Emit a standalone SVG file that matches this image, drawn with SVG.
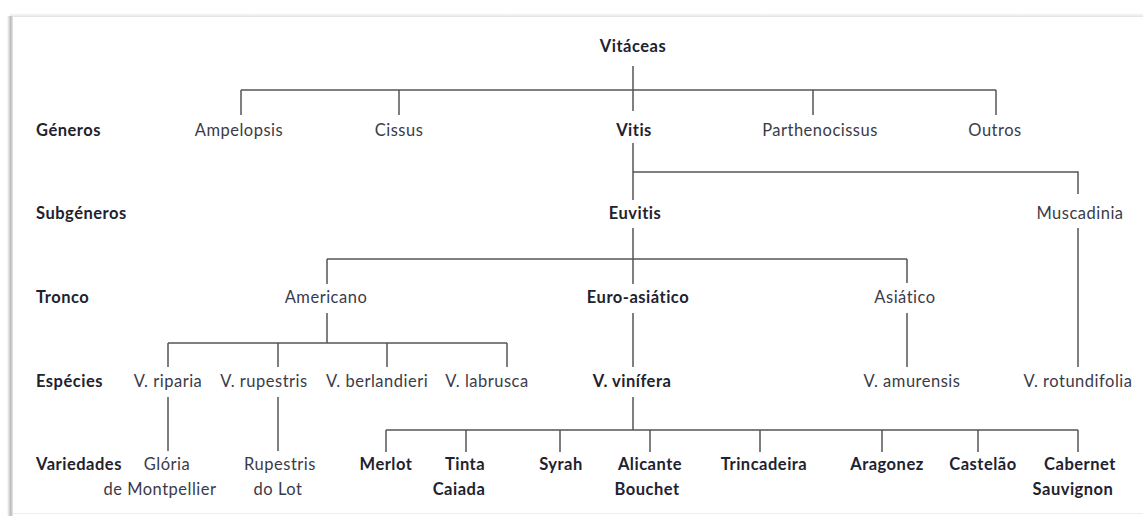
<svg xmlns="http://www.w3.org/2000/svg" width="1143" height="516" viewBox="0 0 1143 516">
<defs>
<linearGradient id="shadowL" x1="0" x2="1" y1="0" y2="0">
<stop offset="0" stop-color="#ffffff"/>
<stop offset="0.6" stop-color="#bdbdbd"/>
<stop offset="1" stop-color="#e6e6e6"/>
</linearGradient>
<linearGradient id="shadowT" x1="0" x2="0" y1="0" y2="1">
<stop offset="0" stop-color="#ffffff"/>
<stop offset="1" stop-color="#e2e2e2"/>
</linearGradient>
</defs>
<style>
text{font-family:Lato,"Liberation Sans",sans-serif;font-size:16.5px;letter-spacing:0.5px;fill:#3b3b48;}
.b{font-weight:bold;fill:#22222e;}
.c{text-anchor:middle;}
.ln{stroke:#555555;stroke-width:1.5;fill:none;}
</style>
<rect width="1143" height="516" fill="#ffffff"/>
<rect x="10" y="13" width="1133" height="4" fill="url(#shadowT)"/>
<rect x="7" y="16" width="6" height="500" fill="url(#shadowL)"/>
<rect x="13" y="17" width="1130" height="496" fill="#ffffff"/>
<line x1="13" y1="513.5" x2="1143" y2="513.5" stroke="#eeeeee" stroke-width="1"/>

<g id="connectors">
<path class="ln" d="M633 66V111M241 90H996M241 90V115M399 90V115M813 90V115M996 90V115"/>
<path class="ln" d="M633 143V200M633 172H1078V194"/>
<path class="ln" d="M633 228V284M327 259H907M327 259V284M907 259V283"/>
<path class="ln" d="M327 313V343M168 343H507M168 343V367M278 343V367M387 343V367M507 343V367"/>
<path class="ln" d="M633 313V367M907 313V367M1078 228V367"/>
<path class="ln" d="M168 397V451M278 397V451"/>
<path class="ln" d="M633 397V430M386 430H1078M386 430V452M466 430V452M560 430V452M650 430V452M760 430V452M882 430V452M978 430V452M1078 430V452"/>
</g>

<g id="row-labels">
<text class="b" x="36" y="136">Géneros</text>
<text class="b" x="36" y="219">Subgéneros</text>
<text class="b" x="36" y="303">Tronco</text>
<text class="b" x="36" y="387">Espécies</text>
<text class="b" x="36" y="470">Variedades</text>
</g>

<g id="n-vitaceas"><text class="b c" x="633" y="52">Vitáceas</text></g>
<g id="n-ampelopsis"><text class="c" x="239" y="136">Ampelopsis</text></g>
<g id="n-cissus"><text class="c" x="399" y="136">Cissus</text></g>
<g id="n-vitis"><text class="b c" x="634" y="136">Vitis</text></g>
<g id="n-parthenocissus"><text class="c" x="820" y="136">Parthenocissus</text></g>
<g id="n-outros"><text class="c" x="995" y="136">Outros</text></g>
<g id="n-euvitis"><text class="b c" x="635" y="219">Euvitis</text></g>
<g id="n-muscadinia"><text class="c" x="1080" y="219">Muscadinia</text></g>
<g id="n-americano"><text class="c" x="326" y="303">Americano</text></g>
<g id="n-euroasiatico"><text class="b c" x="638" y="303">Euro-asiático</text></g>
<g id="n-asiatico"><text class="c" x="905" y="303">Asiático</text></g>
<g id="n-riparia"><text class="c" x="168" y="387">V. riparia</text></g>
<g id="n-rupestris"><text class="c" x="264" y="387">V. rupestris</text></g>
<g id="n-berlandieri"><text class="c" x="377" y="387">V. berlandieri</text></g>
<g id="n-labrusca"><text class="c" x="487" y="387">V. labrusca</text></g>
<g id="n-vinifera"><text class="b c" x="632" y="387">V. vinífera</text></g>
<g id="n-amurensis"><text class="c" x="912" y="387">V. amurensis</text></g>
<g id="n-rotundifolia"><text class="c" x="1078" y="387">V. rotundifolia</text></g>
<g id="n-gloria"><text class="c" x="167" y="470">Glória</text><text class="c" x="160" y="495">de Montpellier</text></g>
<g id="n-rupestrislot"><text class="c" x="280" y="470">Rupestris</text><text class="c" x="278" y="495">do Lot</text></g>
<g id="n-merlot"><text class="b c" x="386" y="470">Merlot</text></g>
<g id="n-tinta"><text class="b c" x="465" y="470">Tinta</text><text class="b c" x="459" y="495">Caiada</text></g>
<g id="n-syrah"><text class="b c" x="561" y="470">Syrah</text></g>
<g id="n-alicante"><text class="b c" x="650" y="470">Alicante</text><text class="b c" x="647" y="495">Bouchet</text></g>
<g id="n-trincadeira"><text class="b c" x="764" y="470">Trincadeira</text></g>
<g id="n-aragonez"><text class="b c" x="887" y="470">Aragonez</text></g>
<g id="n-castelao"><text class="b c" x="983" y="470">Castelão</text></g>
<g id="n-cabernet"><text class="b c" x="1080" y="470">Cabernet</text><text class="b c" x="1073" y="495">Sauvignon</text></g>
</svg>
